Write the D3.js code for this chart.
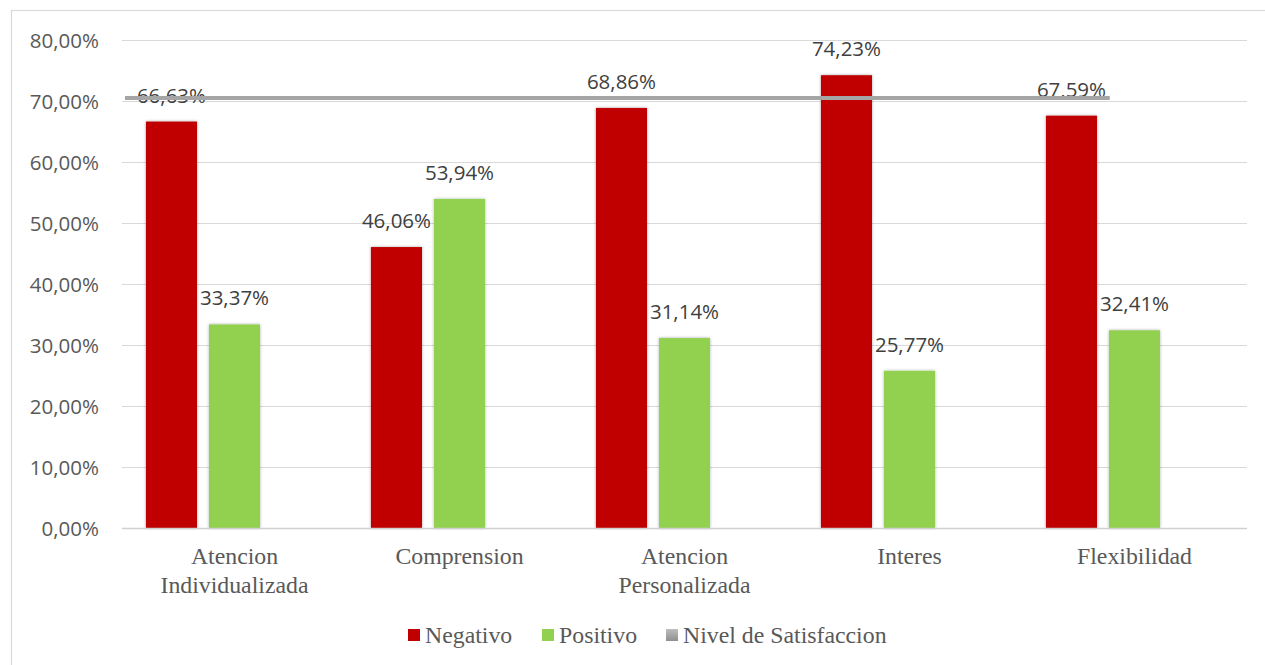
<!DOCTYPE html>
<html>
<head>
<meta charset="utf-8">
<script src="https://cdn.jsdelivr.net/npm/d3@7"></script>
<style>
  html, body { margin: 0; padding: 0; background: #ffffff; }
  svg { display: block; }
</style>
</head>
<body>
<svg id="chart" width="1265" height="665"></svg>
<script>
// Chart data
const categories = [["Atencion", "Individualizada"], ["Comprension"], ["Atencion", "Personalizada"], ["Interes"], ["Flexibilidad"]];
const seriesNames = ["Negativo", "Positivo", "Nivel de Satisfaccion"];
const negativo = [66.63, 46.06, 68.86, 74.23, 67.59];
const positivo = [33.37, 53.94, 31.14, 25.77, 32.41];
const nivelSatisfaccion = 70.5;
const yTicks = [0, 10, 20, 30, 40, 50, 60, 70, 80];
const colors = ["#C00000", "#92D050", "#A5A5A5"];

const svg = d3.select("#chart");
const W = 1265, H = 665;
const plot = { left: 122, right: 1247, top: 40, bottom: 528 };

const locale = d3.formatLocale({ decimal: ",", thousands: ".", grouping: [3], currency: ["", ""] });
const pct = v => locale.format(".2f")(v) + "%";

// Defs: soft bar shadow and legend gradient
const defs = svg.append("defs");
const sh = defs.append("filter").attr("id", "shadow").attr("x", "-20%").attr("y", "-5%").attr("width", "140%").attr("height", "110%");
sh.append("feDropShadow").attr("dx", 0).attr("dy", 0).attr("stdDeviation", 1.6).attr("flood-color", "#000").attr("flood-opacity", 0.35);
const grad = defs.append("linearGradient").attr("id", "grayGrad").attr("x1", 0).attr("y1", 0).attr("x2", 0).attr("y2", 1);
grad.append("stop").attr("offset", "0%").attr("stop-color", "#BDBDBD");
grad.append("stop").attr("offset", "100%").attr("stop-color", "#8F8F8F");

// Chart frame
svg.append("rect").attr("x", 11.5).attr("y", 10.5).attr("width", W).attr("height", H)
  .attr("fill", "#fff").attr("stroke", "#D9D9D9").attr("stroke-width", 1.2);

const catKeys = categories.map(c => c.join(" "));
const x = d3.scaleBand().domain(catKeys).range([plot.left, plot.right]).paddingInner(0).paddingOuter(0);
const xs = d3.scaleBand().domain(seriesNames).range([0, x.bandwidth()]).paddingInner(0.19).paddingOuter(0.38);
const y = d3.scaleLinear().domain([0, 80]).range([plot.bottom, plot.top]);

// Gridlines
svg.append("g").selectAll("line").data(yTicks.filter(t => t > 0)).join("line")
  .attr("x1", plot.left).attr("x2", plot.right)
  .attr("y1", d => y(d) + 0.5).attr("y2", d => y(d) + 0.5)
  .attr("stroke", "#D9D9D9").attr("stroke-width", 1.2);

// Y axis labels
const yAxis = d3.axisLeft(y).tickValues(yTicks).tickFormat(pct).tickSize(0).tickPadding(0);
const yg = svg.append("g").attr("transform", `translate(${plot.left - 23},0)`).call(yAxis);
yg.select(".domain").remove();
yg.selectAll("text").attr("font-family", "Open Sans, sans-serif").attr("font-size", 20.5)
  .attr("fill", "#595959").attr("dy", "0.36em");

// Bars
const barData = [];
catKeys.forEach((c, i) => {
  barData.push({ cat: c, s: "Negativo", v: negativo[i], color: colors[0] });
  barData.push({ cat: c, s: "Positivo", v: positivo[i], color: colors[1] });
});
svg.append("g").selectAll("rect").data(barData).join("rect")
  .attr("x", d => x(d.cat) + xs(d.s))
  .attr("y", d => y(d.v))
  .attr("width", xs.bandwidth())
  .attr("height", d => y(0) - y(d.v))
  .attr("fill", d => d.color)
  .attr("filter", "url(#shadow)");

// Category axis line
svg.append("line").attr("x1", plot.left).attr("x2", plot.right)
  .attr("y1", y(0) + 0.5).attr("y2", y(0) + 0.5)
  .attr("stroke", "#D0D0D0").attr("stroke-width", 1.5);

// Data labels
svg.append("g").selectAll("text").data(barData).join("text")
  .attr("x", d => x(d.cat) + xs(d.s) + xs.bandwidth() / 2)
  .attr("y", d => y(d.v) - 19)
  .attr("text-anchor", "middle")
  .attr("font-family", "Open Sans, sans-serif").attr("font-size", 20.5)
  .attr("fill", "#404040")
  .text(d => pct(d.v));

// Satisfaction threshold line (drawn over the labels)
svg.append("line")
  .attr("x1", plot.left + 3)
  .attr("x2", x(catKeys[catKeys.length - 1]) + x.bandwidth() * 0.39)
  .attr("y1", y(nivelSatisfaccion)).attr("y2", y(nivelSatisfaccion))
  .attr("stroke", colors[2]).attr("stroke-width", 4);

// Category labels
const cg = svg.append("g").selectAll("text").data(categories).join("text")
  .attr("x", (d, i) => x(catKeys[i]) + x.bandwidth() / 2)
  .attr("y", 564)
  .attr("text-anchor", "middle")
  .attr("font-family", "Liberation Serif, Times New Roman, serif").attr("font-size", 23.8)
  .attr("fill", "#595959");
cg.selectAll("tspan").data(d => d).join("tspan")
  .attr("x", function () { return d3.select(this.parentNode).attr("x"); })
  .attr("dy", (d, i) => i === 0 ? 0 : 28.5)
  .text(d => d);

// Legend
const legendX = [408, 542, 666];
const lg = svg.append("g").selectAll("g").data(seriesNames).join("g")
  .attr("transform", (d, i) => `translate(${legendX[i]},629)`);
lg.append("rect").attr("width", 12).attr("height", 12)
  .attr("fill", (d, i) => i === 2 ? "url(#grayGrad)" : colors[i]);
lg.append("text").attr("x", 17).attr("y", 14)
  .attr("font-family", "Liberation Serif, Times New Roman, serif").attr("font-size", 23.8)
  .attr("fill", "#595959")
  .text(d => d);
</script>
</body>
</html>
